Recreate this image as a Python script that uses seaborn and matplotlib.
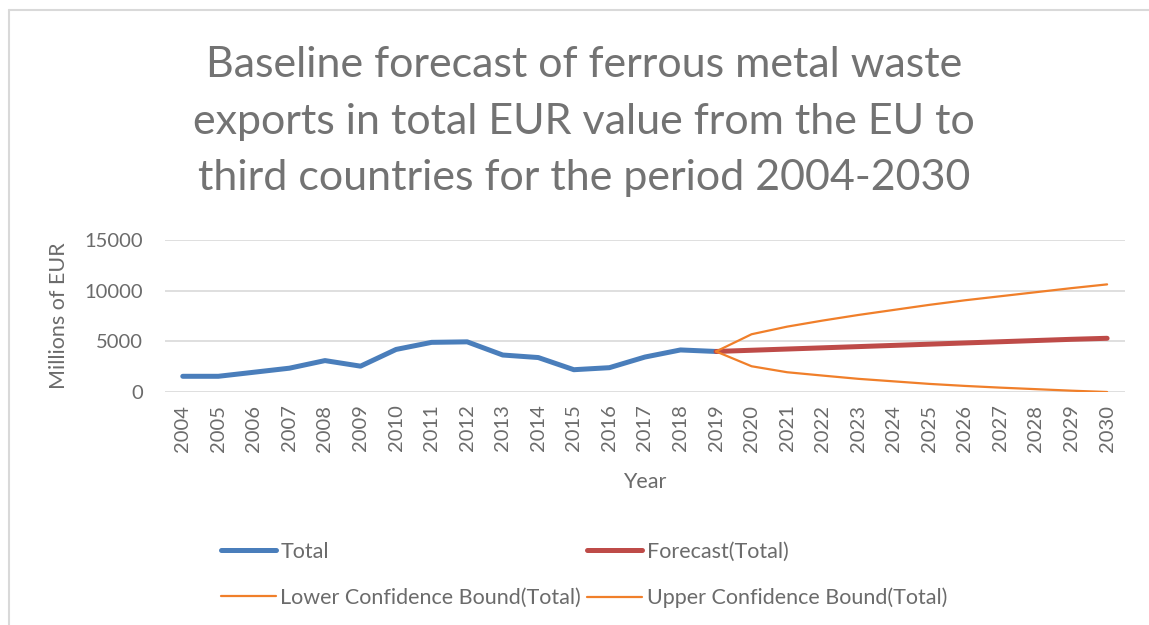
import numpy as np
import pandas as pd
import matplotlib
matplotlib.use("Agg")
import matplotlib.pyplot as plt
import seaborn as sns
from matplotlib.lines import Line2D

# data (millions of EUR)
hist_years = list(range(2004, 2020))
total = [1550, 1550, 1950, 2350, 3100, 2550, 4200, 4900, 4950,
         3650, 3400, 2200, 2400, 3450, 4150, 4000]

fc_years = list(range(2019, 2031))
forecast = [4000, 4120, 4240, 4360, 4480, 4600, 4720, 4840, 4960, 5080, 5200, 5300]
upper = [4000, 5700, 6450, 7050, 7600, 8100, 8600, 9050, 9450, 9850, 10250, 10620]
lower = [4000, 2540, 1950, 1620, 1300, 1050, 800, 600, 430, 280, 130, 0]

all_years = list(range(2004, 2031))

grey = '#6b6b6b'
title_grey = '#737373'
blue = '#4a7ebb'
red = '#be4b48'
orange = '#f07f2a'

sns.set_theme(style='white')
plt.rcParams['font.family'] = ['Lato', 'DejaVu Sans']

fig = plt.figure(figsize=(11.49, 6.25), dpi=100)
ax = fig.add_axes([0.1436, 0.3728, 0.8354, 0.2432])

hist = pd.DataFrame({'Year': hist_years, 'Total': total})
fc = pd.DataFrame({'Year': fc_years, 'Forecast': forecast,
                   'Lower': lower, 'Upper': upper})

sns.lineplot(data=hist, x='Year', y='Total', color=blue, lw=3.6,
             solid_capstyle='round', ax=ax, zorder=3)
sns.lineplot(data=fc, x='Year', y='Lower', color=orange, lw=1.6, ax=ax, zorder=4)
sns.lineplot(data=fc, x='Year', y='Upper', color=orange, lw=1.6, ax=ax, zorder=4)
sns.lineplot(data=fc, x='Year', y='Forecast', color=red, lw=3.6,
             solid_capstyle='round', ax=ax, zorder=3)

ax.set_xlim(2003.5, 2030.5)
ax.set_ylim(0, 15000)
ax.set_yticks([0, 5000, 10000, 15000])
ax.set_xticks(all_years)
ax.set_xticklabels([str(y) for y in all_years], rotation=90)
ax.tick_params(axis='both', colors=grey, labelsize=14.5, length=0)
ax.tick_params(axis='y', pad=16)
ax.tick_params(axis='x', pad=9)
ax.yaxis.grid(True, color='#d9d9d9', lw=1.2)
ax.set_axisbelow(True)
for s in ax.spines.values():
    s.set_visible(False)

ax.set_xlabel('Year', color=grey, fontsize=15.5, labelpad=15)
ax.set_ylabel('Millions of EUR', color=grey, fontsize=15.5, labelpad=11)

fig.text(0.508, 0.805,
         'Baseline forecast of ferrous metal waste\n'
         'exports in total EUR value from the EU to\n'
         'third countries for the period 2004-2030',
         ha='center', va='center', color=title_grey, fontsize=31,
         linespacing=1.6)

handles = [Line2D([], [], color=blue, lw=3.6, solid_capstyle='round'),
           Line2D([], [], color=orange, lw=1.6),
           Line2D([], [], color=red, lw=3.6, solid_capstyle='round'),
           Line2D([], [], color=orange, lw=1.6)]
labels = ['Total', 'Lower Confidence Bound(Total)',
          'Forecast(Total)', 'Upper Confidence Bound(Total)']
fig.legend(handles, labels, ncol=2, loc='upper left',
           bbox_to_anchor=(0.183, 0.15), bbox_transform=fig.transFigure,
           frameon=False, fontsize=15.5, labelcolor=grey,
           handlelength=2.55, handletextpad=0.2, columnspacing=0.3,
           labelspacing=1.2, borderpad=0)

# chart frame (left and top edges visible)
fig.add_artist(Line2D([0.0075, 0.0075], [0, 0.984], color='#d9d9d9', lw=1.5,
                      transform=fig.transFigure))
fig.add_artist(Line2D([0.0075, 1.0], [0.984, 0.984], color='#d9d9d9', lw=1.5,
                      transform=fig.transFigure))

fig.savefig('out.png', dpi=100, facecolor='white')
